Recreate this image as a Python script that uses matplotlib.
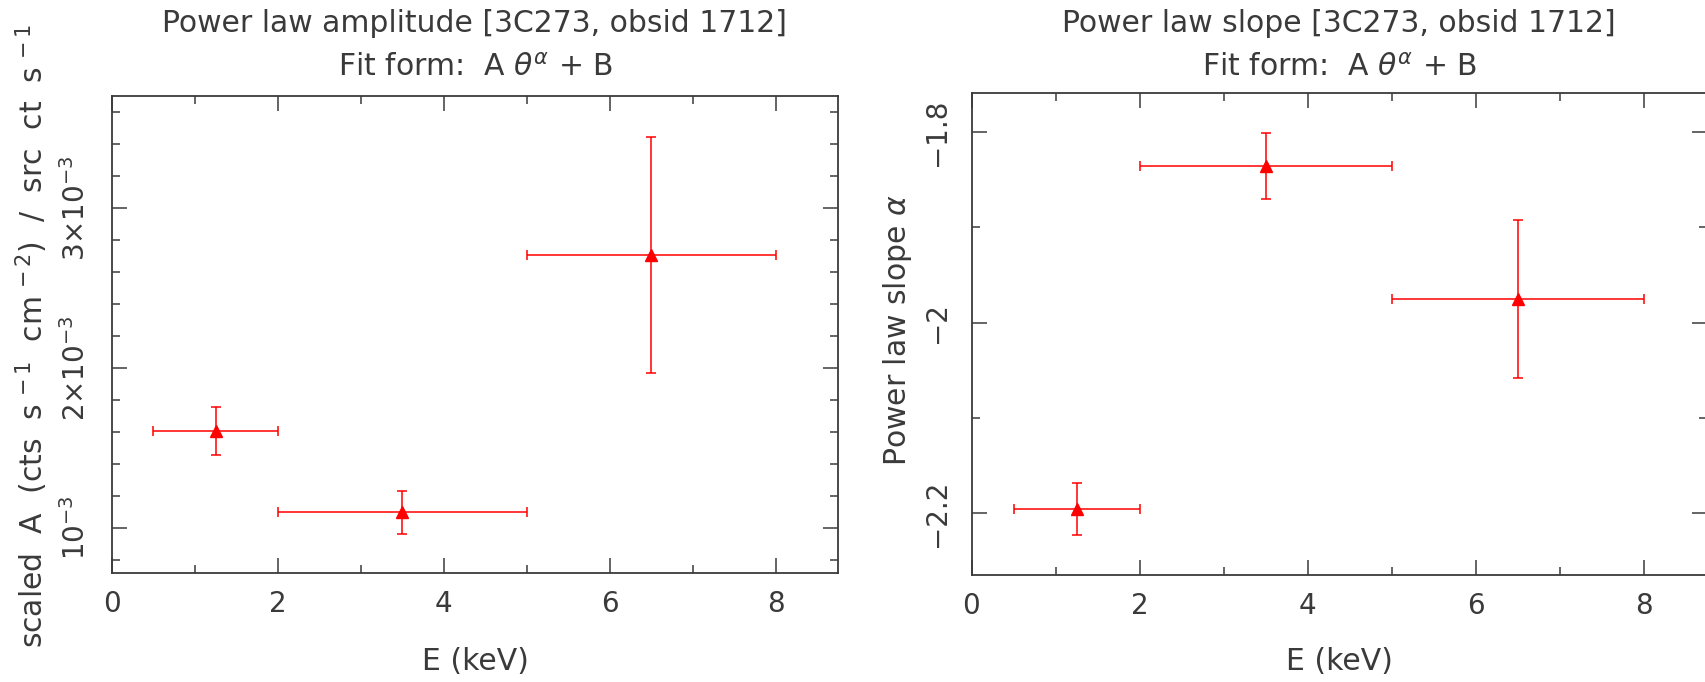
import numpy as np
import matplotlib
matplotlib.use("Agg")
import matplotlib.pyplot as plt
from matplotlib.ticker import FixedLocator, FixedFormatter, MultipleLocator

# energy bins (keV)
e_center = [1.25, 3.5, 6.5]
e_lo = [0.5, 2.0, 5.0]
e_hi = [2.0, 5.0, 8.0]

# power law amplitude (scaled A)
amp = [1.604e-3, 1.096e-3, 2.706e-3]
amp_err = [0.150e-3, 0.134e-3, 0.740e-3]

# power law slope alpha
slope = [-2.1955, -1.8357, -1.9751]
slope_err = [0.0275, 0.0347, 0.0832]

x_ticks = [0, 2, 4, 6, 8]
amp_ticks = [1e-3, 2e-3, 3e-3]
amp_ticklabels = [r"$10^{-3}$", r"$2{\times}10^{-3}$", r"$3{\times}10^{-3}$"]
slope_ticks = [-2.2, -2.0, -1.8]
slope_ticklabels = ["\u22122.2", "\u22122", "\u22121.8"]

W, H = 1705, 682
TXT = "#3a3a3a"
FS = 20      # tick labels
LFS = 21.5   # titles and axis labels

plt.rcParams["font.family"] = "DejaVu Sans"
plt.rcParams["mathtext.fontset"] = "dejavusans"


def px_axes(left, top, right, bottom):
    return [left / W, (H - bottom) / H, (right - left) / W, (bottom - top) / H]


def style_axes(ax):
    for sp in ax.spines.values():
        sp.set_linewidth(1.3)
        sp.set_color(TXT)
    ax.tick_params(which="both", direction="in", top=True, right=True,
                   color=TXT, width=1.1, labelcolor=TXT, labelsize=FS)
    ax.tick_params(which="major", length=10.5)
    ax.tick_params(which="minor", length=5.5)
    ax.tick_params(axis="x", pad=12)
    ax.tick_params(axis="y", pad=15, labelrotation=90)
    for lab in ax.get_yticklabels():
        lab.set_va("center")
    ax.set_xlim(0, 8.75)
    ax.xaxis.set_major_locator(FixedLocator(x_ticks))
    ax.xaxis.set_minor_locator(MultipleLocator(1))


def draw(ax, y, yerr):
    x = np.array(e_center)
    xerr = [x - np.array(e_lo), np.array(e_hi) - x]
    ax.errorbar(x, y, xerr=xerr, yerr=yerr, fmt="^", color="red",
                ms=9, lw=1.1, capsize=3.5, capthick=1.1)


fig = plt.figure(figsize=(W / 100, H / 100), dpi=100)

# left panel: amplitude
ax1 = fig.add_axes(px_axes(112, 96, 838, 573))
draw(ax1, amp, amp_err)
ax1.set_ylim(0.716e-3, 3.70e-3)
ax1.yaxis.set_major_locator(FixedLocator(amp_ticks))
ax1.yaxis.set_major_formatter(FixedFormatter(amp_ticklabels))
ax1.yaxis.set_minor_locator(MultipleLocator(0.2e-3))
style_axes(ax1)

# right panel: slope
ax2 = fig.add_axes(px_axes(971.5, 93, 1706.5, 575.3))
draw(ax2, slope, slope_err)
ax2.set_ylim(-2.265, -1.759)
ax2.yaxis.set_major_locator(FixedLocator(slope_ticks))
ax2.yaxis.set_major_formatter(FixedFormatter(slope_ticklabels))
ax2.yaxis.set_minor_locator(MultipleLocator(0.1))
style_axes(ax2)

# titles, axis labels
fit_form = r"Fit form:  A $\theta^{\alpha}$ + B"
for cx, title in [(475, "Power law amplitude [3C273, obsid 1712]"),
                  (1339, "Power law slope [3C273, obsid 1712]")]:
    fig.text(cx / W, 1 - 24 / H, title, ha="center", va="center",
             fontsize=LFS, color=TXT)
    fig.text(cx / W, 1 - 67 / H, fit_form, ha="center", va="center",
             fontsize=LFS, color=TXT)
    fig.text(cx / W, 1 - 661 / H, "E (keV)", ha="center", va="center",
             fontsize=LFS, color=TXT)

fig.text(32 / W, 1 - 336 / H,
         r"scaled  A  (cts  s$^{\,-1}$  cm$^{\,-2}$)  /  src  ct  s$^{\,-1}$",
         rotation=90, ha="center", va="center", fontsize=LFS, color=TXT)
fig.text(897 / W, 1 - 330 / H, r"Power law slope $\alpha$",
         rotation=90, ha="center", va="center", fontsize=LFS, color=TXT)

fig.savefig("out.png", dpi=100)
